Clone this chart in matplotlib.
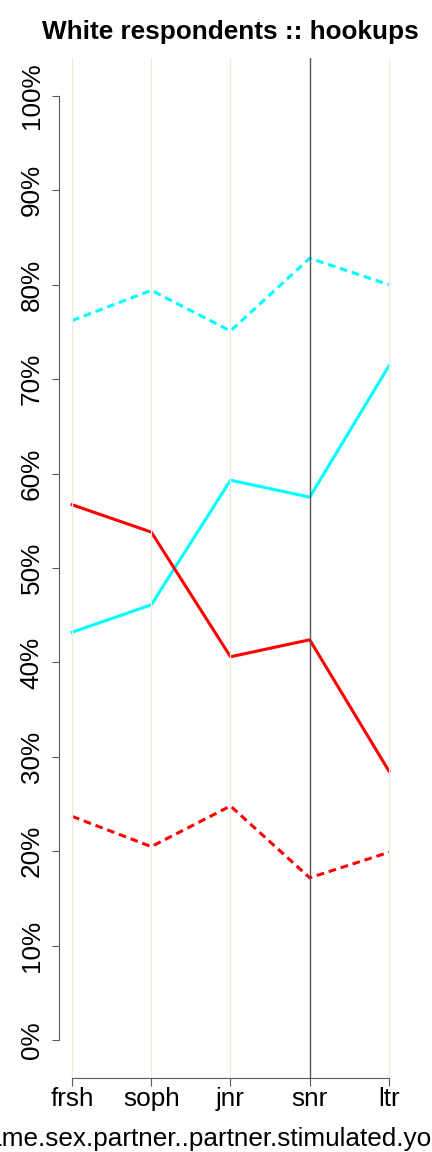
import matplotlib
matplotlib.use("Agg")
import matplotlib.pyplot as plt

plt.rcParams['font.family'] = ['Liberation Sans', 'DejaVu Sans']

# class years on the x axis
years = ['frsh', 'soph', 'jnr', 'snr', 'ltr']
# percent of respondents per year
cyan_solid = [43.2, 46.1, 59.3, 57.5, 71.4]
cyan_dashed = [76.2, 79.4, 75.1, 82.8, 80.0]
red_solid = [56.7, 53.8, 40.6, 42.4, 28.5]
red_dashed = [23.7, 20.5, 24.8, 17.2, 19.9]
y_ticks = [0, 10, 20, 30, 40, 50, 60, 70, 80, 90, 100]
y_labels = [f"{v}%" for v in y_ticks]
marked_year = 'snr'

W, H = 432, 1152
fig = plt.figure(figsize=(W / 100, H / 100), dpi=100)
ax = fig.add_axes([59.4 / W, 74 / H, 342.2 / W, 1020 / H])

x = list(range(1, len(years) + 1))
fs = 18.8
axis_col = '#5a5a5a'

# background guide lines at each year
for xi, yr in zip(x, years):
    if yr == marked_year:
        ax.axvline(xi, color='#555555', lw=1.0, zorder=5)
    else:
        ax.axvline(xi, color='#EEEBDA', lw=0.9, zorder=5)

dash = (2.5, 1.6)
ax.plot(x, cyan_dashed, color='#00FFFF', lw=2.2, ls=(0, dash), zorder=3)
ax.plot(x, cyan_solid, color='#00FFFF', lw=2.2, zorder=3)
ax.plot(x, red_solid, color='#FF0000', lw=2.2, zorder=3)
ax.plot(x, red_dashed, color='#FF0000', lw=2.2, ls=(0, dash), zorder=3)

ax.set_xlim(0.84, 5.16)
ax.set_ylim(-4, 104)

for s in ['top', 'right']:
    ax.spines[s].set_visible(False)
ax.spines['left'].set_bounds(0, 100)
ax.spines['bottom'].set_bounds(1, 5)
for s in ['left', 'bottom']:
    ax.spines[s].set_color(axis_col)
    ax.spines[s].set_linewidth(0.8)

ax.set_xticks(x)
ax.set_xticklabels(years, fontsize=fs)
ax.set_yticks(y_ticks)
ax.set_yticklabels(y_labels, fontsize=fs, rotation=90, va='center')
ax.tick_params(axis='both', color=axis_col, width=0.8, length=5.4)
ax.tick_params(axis='x', pad=1)
ax.tick_params(axis='y', pad=6)

ax.set_title('White respondents :: hookups', fontsize=fs, fontweight='bold', pad=13.7)

fig.text(210.5 / W, (H - 1146) / H, 'same.sex.partner..partner.stimulated.you',
         fontsize=fs, ha='center', va='baseline')

fig.savefig('out.png', dpi=100)
